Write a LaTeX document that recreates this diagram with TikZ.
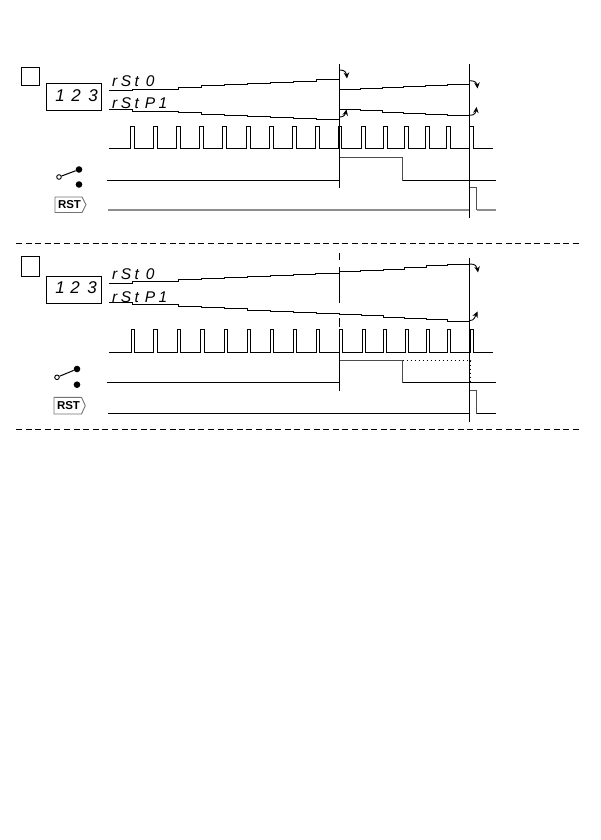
\documentclass[tikz,border=0pt]{standalone}
\usepackage{fontspec}
\setmainfont{Liberation Sans}
\newfontfamily\segfont[LetterSpace=22]{Liberation Sans}
\usetikzlibrary{arrows.meta}
\tikzset{
  wave/.style={line width=1pt,black,line join=miter},
  graywave/.style={line width=1.1pt,black!70},
  rstgray/.style={line width=2pt,black!45},
  frame/.style={draw,line width=0.9pt,inner sep=0,minimum width=#1},
  vline/.style={line width=1pt},
  sep/.style={line width=0.9pt,dash pattern=on 6pt off 3.6pt},
  segtext/.style={inner sep=0,anchor=west,font=\segfont\itshape\fontsize{15.5}{16}\selectfont},
  digit/.style={inner sep=0,font=\itshape\fontsize{17}{18}\selectfont},
  rstbox/.style={draw=black!55,line width=0.9pt,fill=white,line join=round},
  rstlabel/.style={inner sep=0,font=\bfseries\fontsize{11.5}{12}\selectfont},
  turn/.style={line width=0.9pt,-{Stealth[length=6pt,width=5.5pt]}},
  opencontact/.style={circle,draw,line width=0.9pt,fill=white,inner sep=0,minimum size=4.6pt},
  closedcontact/.style={circle,fill=black,inner sep=0,minimum size=6.6pt},
}
\begin{document}
\begin{tikzpicture}[x=1pt,y=-1pt]
\useasboundingbox[fill=white] (0,0) rectangle (600,840);

%% ---------- panel 1 ----------
\node[frame=18pt,minimum height=18.5pt] (boxA) at (30.5,76.7) {};
\node[frame=54.5pt,minimum height=26.5pt] (dispA) at (73.7,96.8) {};
\node[digit] (a1) at (60,95.7) {1};
\node[digit] (a2) at (76,95.7) {2};
\node[digit] (a3) at (93,95.7) {3};
\node[segtext] (aL1) at (112,81.5) {rSt\hspace{7pt}0};
\node[segtext] (aL2) at (112,103.5) {rSt\hspace{6pt}P1};

\draw[wave] (109,90.5) \foreach \x/\y in {132.5/89.5,178.5/87.5,201.5/85.5,224.5/84.5,247.5/83.5,270.5/82.5,293.5/81.5,316.5/79.5,339.5/78.5} { -| (\x,\y) };
\draw[wave] (109,109.5) \foreach \x/\y in {132.5/111.5,178.5/112.5,201.5/114.5,224.5/115.5,247.5/116.5,270.5/117.5,293.5/118.5,316.5/119.5,339.5/120.5} { -| (\x,\y) };
\draw[wave] (339.5,89.5) \foreach \x/\y in {360.5/88.5,382.5/87.5,403.5/86.5,425.5/85.5,447.5/84.5,469.5/83.5} { -| (\x,\y) };
\draw[wave] (339.5,109.5) \foreach \x/\y in {360.5/110.5,382.5/112.5,403.5/113.5,425.5/114.5,447.5/115.5} { -| (\x,\y) } -- (469.5,115.5);

\draw[turn] (340,70) .. controls (345,70) and (346.5,73) .. (347,78.5);
\draw[turn] (340,117) .. controls (344,117) and (345.5,114) .. (346.5,109.5);
\draw[turn] (470,80.7) .. controls (475,80.7) and (477,83) .. (477.5,88.5);
\draw[turn] (470,115.3) .. controls (475,115.3) and (476,112) .. (476.5,107);

\draw[wave] (109,148.5) \foreach \a/\b in {130.5/134.5,153.5/157.5,176.5/180.5,199.5/203.5,222.5/226.5,246.5/250.5,269.5/273.5,292.5/296.5,315.5/319.5,338.5/341.5,361.5/365.5,383.5/387.5,404.5/408.5,425.5/429.5,446.5/450.5,469.5/473.5} { -- (\a,148.5) -- (\a,126.5) -- (\b,126.5) -- (\b,148.5) } -- (492.7,148.5);

\draw[wave] (106.5,180.5) -- (339.5,180.5);
\draw[graywave] (339.5,180.5) -- (339.5,157.5) -- (402.5,157.5) -- (402.5,180.5);
\draw[wave] (402.5,180.5) -- (496,180.5);
\draw[rstgray] (107.5,210) -- (469.5,210);
\draw[graywave] (469.5,210) -- (469.5,187.5) -- (476.5,187.5) -- (476.5,210);
\draw[rstgray] (476.5,210) -- (496,210);

\draw[vline] (339.5,64) -- (339.5,188);
\draw[vline] (469.5,64) -- (469.5,217.7);

\node[opencontact] (aC) at (59,177) {};
\node[closedcontact] (aU) at (79,169.5) {};
\node[closedcontact] (aD) at (79,184.5) {};
\draw[line width=1pt] (aC) -- (aU);

\draw[rstbox] (55,197) -- (82,197) -- (86,204.7) -- (82,212.5) -- (55,212.5) -- cycle;
\node[rstlabel] (aR) at (69.5,204.8) {RST};

%% ---------- separators ----------
\coordinate (s1a) at (16,243.5); \coordinate (s1b) at (582,243.5);
\coordinate (s2a) at (16,429.5); \coordinate (s2b) at (582,429.5);
\draw[sep] (s1a) -- (s1b);
\draw[sep] (s2a) -- (s2b);

%% ---------- panel 2 ----------
\node[frame=18pt,minimum height=20pt] (boxB) at (30.5,266.5) {};
\node[frame=54.5pt,minimum height=27pt] (dispB) at (73.7,290) {};
\node[digit] (b1) at (60,288) {1};
\node[digit] (b2) at (75,288) {2};
\node[digit] (b3) at (92,288) {3};
\node[segtext] (bL1) at (112,274.5) {rSt\hspace{7pt}0};
\node[segtext] (bL2) at (112,297) {rSt\hspace{6pt}P1};

\draw[wave] (109,283.5) \foreach \x/\y in {132.5/281.5,178.5/279.5,201.5/278.5,224.5/277.5,247.5/276.5,270.5/275.5,293.5/274.5,315.5/273.5,339.5/271.5,360.5/270.5,383.5/269.5,404.5/267.5,426.5/265.5,447.5/264.5,469.5/264.5} { -| (\x,\y) };
\draw[wave] (109,302.5) \foreach \x/\y in {132.5/304.5,178.5/306.5,201.5/307.5,224.5/308.5,247.5/310.5,270.5/311.5,293.5/312.5,316.5/313.5,339.5/314.5,361.5/315.5,383.5/317.5,404.5/318.5,426.5/319.5,447.5/321.5,469.5/322.5} { -| (\x,\y) };

\draw[turn] (470,264) .. controls (475,264) and (477,266) .. (478,272.5);
\draw[turn] (470,320.5) .. controls (474,320.5) and (475,317) .. (477.5,311.5);

\draw[wave] (109,352.5) \foreach \a/\b in {131.5/134.5,153.5/157.5,177.5/180.5,200.5/204.5,224.5/227.5,247.5/250.5,270.5/273.5,293.5/296.5,316.5/319.5,339.5/342.5,362.5/365.5,383.5/386.5,405.5/408.5,426.5/429.5,447.5/450.5,470.5/473.5} { -- (\a,352.5) -- (\a,329.5) -- (\b,329.5) -- (\b,352.5) } -- (493.3,352.5);

\draw[wave] (106.5,382.5) -- (339.5,382.5);
\draw[graywave] (339.5,382.5) -- (339.5,360.5) -- (402.5,360.5) -- (402.5,382.5);
\draw[wave] (402.5,382.5) -- (496,382.5);
\draw[line width=1.1pt,dash pattern=on 1.6pt off 2.4pt] (402.5,360.5) -- (470.5,360.5) -- (470.5,382.5);
\draw[wave] (107.5,413.5) -- (469.5,413.5);
\draw[graywave] (469.5,413.5) -- (469.5,390.5) -- (476.5,390.5) -- (476.5,413.5);
\draw[wave] (476.5,413.5) -- (496,413.5);

\draw[vline] (339.5,253.3) -- (339.5,260);
\draw[vline] (339.5,267) -- (339.5,303);
\draw[vline] (339.5,318) -- (339.5,327);
\draw[vline] (339.5,330) -- (339.5,390.7);
\draw[vline] (469.5,257.7) -- (469.5,421.7);

\node[opencontact] (bC) at (57,377.3) {};
\node[closedcontact] (bU) at (77,369) {};
\node[closedcontact] (bD) at (77,384.7) {};
\draw[line width=1pt] (bC) -- (bU);

\draw[rstbox] (54,397.3) -- (81.5,397.3) -- (85.3,405.6) -- (81.5,414) -- (54,414) -- cycle;
\node[rstlabel] (bR) at (68.5,405.8) {RST};
\end{tikzpicture}
\end{document}
